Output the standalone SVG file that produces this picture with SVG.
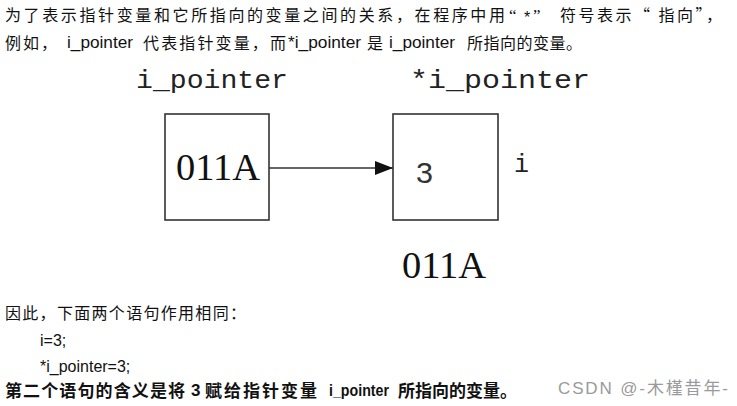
<svg xmlns="http://www.w3.org/2000/svg" width="737" height="406" viewBox="0 0 737 406">
<defs>
<style>
.t{font-family:"Liberation Sans","Noto Sans CJK SC",sans-serif;font-size:16px;fill:#111}
.q{font-family:"Liberation Serif",serif;font-size:17px;fill:#111}
.cj{font-family:"Noto Sans CJK SC","Liberation Sans",sans-serif;font-size:16px;fill:#111}
.b{font-weight:bold;font-size:17px}
.mono{font-family:"Liberation Mono","DejaVu Sans Mono",monospace;font-size:25px;fill:#222}
.ser{font-family:"Liberation Serif","DejaVu Serif",serif;font-size:37px;fill:#111}
.box{fill:#fff;stroke:#333;stroke-width:1.6}
.edge{stroke:#333;stroke-width:1.6;fill:none}
.wm{font-family:"Liberation Sans","Noto Sans CJK SC",sans-serif;font-size:17px;fill:#9a9a9a}
</style>
<marker id="ah" viewBox="0 0 18 14" refX="18" refY="7" markerWidth="18" markerHeight="14" markerUnits="userSpaceOnUse" orient="auto">
<path d="M0,0 L18,7 L0,14 Z" fill="#111"/>
</marker>
</defs>
<rect width="737" height="406" fill="#fff"/>

<g id="intro">
<text class="cj" x="5" y="21" textLength="500" lengthAdjust="spacing">为了表示指针变量和它所指向的变量之间的关系，在程序中用</text>
<text class="q" x="509" y="21">“</text>
<text class="t" x="524" y="23">*</text>
<text class="q" x="533" y="21">”</text>
<text class="cj" x="560" y="21" textLength="162" lengthAdjust="spacing">符号表示“ 指向”，</text>
<text class="cj" x="5" y="49" textLength="52" lengthAdjust="spacing">例如，</text>
<text class="t" x="67" y="48" font-size="17" textLength="66" lengthAdjust="spacingAndGlyphs">i_pointer</text>
<text class="cj" x="143" y="49" textLength="143" lengthAdjust="spacing">代表指针变量，而</text>
<text class="t" x="288" y="48" font-size="17" textLength="73" lengthAdjust="spacingAndGlyphs">*i_pointer</text>
<text class="cj" x="367" y="49">是</text>
<text class="t" x="389" y="48" font-size="17" textLength="66" lengthAdjust="spacingAndGlyphs">i_pointer</text>
<text class="cj" x="467" y="49" textLength="115" lengthAdjust="spacing">所指向的变量。</text>
</g>

<g id="connectors">
<line class="edge" x1="269" y1="168" x2="393" y2="168" marker-end="url(#ah)"/>
</g>

<g id="node-pointer">
<text class="mono" x="136" y="88" textLength="152" lengthAdjust="spacingAndGlyphs">i_pointer</text>
<rect class="box" x="165" y="114" width="104" height="106"/>
<text class="ser" x="176" y="180" textLength="84" lengthAdjust="spacingAndGlyphs">011A</text>
</g>

<g id="node-target">
<text class="mono" x="410" y="88" textLength="180" lengthAdjust="spacingAndGlyphs">*i_pointer</text>
<rect class="box" x="393" y="114" width="105" height="106"/>
<text x="416" y="183" font-family="'Liberation Sans',sans-serif" font-size="30" fill="#333" textLength="17" lengthAdjust="spacingAndGlyphs">3</text>
<text class="mono" x="514" y="172">i</text>
<text class="ser" x="402" y="278" textLength="84" lengthAdjust="spacingAndGlyphs">011A</text>
</g>

<g id="outro">
<text class="cj" x="5" y="319" textLength="241" lengthAdjust="spacing">因此，下面两个语句作用相同：</text>
<text class="t" x="40" y="346">i=3;</text>
<text class="t" x="40" y="372">*i_pointer=3;</text>
<text class="cj b" x="5" y="397" textLength="180" lengthAdjust="spacing">第二个语句的含义是将</text>
<text class="t b" x="191" y="396">3</text>
<text class="cj b" x="205" y="397" textLength="112" lengthAdjust="spacing">赋给指针变量</text>
<text class="t b" x="329" y="396" textLength="60" lengthAdjust="spacingAndGlyphs">i_pointer</text>
<text class="cj b" x="398" y="397">所指向的变量。</text>
<text class="wm" x="558" y="394" textLength="170" lengthAdjust="spacing">CSDN @-木槿昔年-</text>
</g>
</svg>
